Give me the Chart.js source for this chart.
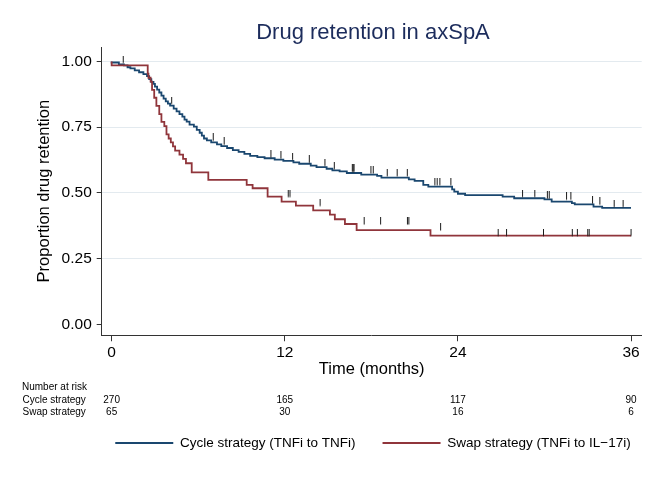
<!DOCTYPE html>
<html>
<head>
<meta charset="utf-8">
<script src="https://cdn.jsdelivr.net/npm/chart.js@4.4.1/dist/chart.umd.min.js"></script>
<style>
html,body{margin:0;padding:0;background:#fff;}
#wrap{width:660px;height:480px;}
</style>
</head>
<body>
<div id="wrap"><canvas id="c" width="660" height="480"></canvas></div>
<script>
// ---- data ----
const chartTitle = 'Drug retention in axSpA';
const xTitle = 'Time (months)';
const yTitle = 'Proportion drug retention';
const seriesLabels = ['Cycle strategy (TNFi to TNFi)', 'Swap strategy (TNFi to IL\u221217i)'];

const xTicks = [0, 12, 24, 36];
const yTicks = [0, 0.25, 0.5, 0.75, 1];

const cycleTime = [0,0.5,0.85,1.1,1.3,1.6,1.9,2.2,2.45,2.6,
  2.75,2.9,3.0,3.15,3.3,3.45,3.6,3.75,3.9,4.05,
  4.3,4.5,4.7,4.9,5.05,5.2,5.4,5.7,5.9,6.1,
  6.25,6.4,6.6,6.9,7.3,7.6,8.0,8.4,8.8,9.2,
  9.6,10.1,10.6,11.3,11.9,12.6,13.0,13.8,14.2,14.9,
  15.3,15.8,16.3,17.3,18.4,18.7,20.6,21.0,21.6,21.95,
  23.6,23.75,24.0,24.5,27.1,27.9,30.0,30.5,31.9,32.1,
  33.4,34.0,35.6,36];
const cycleSurv = [1,0.996,0.989,0.985,0.978,0.974,0.966,0.959,0.952,0.944,
  0.933,0.922,0.915,0.904,0.893,0.882,0.870,0.859,0.848,0.840,
  0.832,0.821,0.81,0.80,0.79,0.779,0.771,0.76,0.752,0.74,
  0.729,0.718,0.707,0.70,0.692,0.685,0.678,0.671,0.663,0.656,
  0.649,0.641,0.636,0.632,0.627,0.622,0.616,0.611,0.604,0.598,
  0.592,0.586,0.582,0.576,0.570,0.565,0.558,0.552,0.546,0.531,
  0.524,0.514,0.505,0.497,0.492,0.486,0.480,0.476,0.467,0.461,
  0.457,0.448,0.443,0.443];
const cycleCensor = [0.8,4.16,7.04,7.8,11.04,11.73,12.54,13.7,14.78,15.43,16.68,16.74,16.8,17.97,18.13,19.1,19.79,20.49,22.4,22.56,22.75,23.51,28.48,29.33,30.2,30.33,31.53,31.83,33.33,33.84,34.83,35.45];

const swapTime = [0,2.5,2.55,2.7,2.8,2.95,3.1,3.3,3.45,3.65,
  3.8,3.95,4.1,4.25,4.4,4.7,4.95,5.15,5.55,6.7,
  9.36,9.77,10.81,11.78,12.77,13.97,15.13,15.47,16.17,16.98,
  22.1,25.0,36];
const swapSurv = [1,0.985,0.954,0.938,0.923,0.892,0.862,0.831,0.800,0.77,
  0.754,0.723,0.707,0.692,0.677,0.661,0.646,0.63,0.613,0.578,
  0.55,0.531,0.518,0.486,0.467,0.452,0.434,0.418,0.40,0.382,
  0.359,0.338,0.338];
const swapCensor = [12.24,12.36,14.45,17.5,18.64,20.5,20.6,22.8,26.79,27.37,29.93,31.93,32.28,33.0,33.1,36.0];

const riskTitle = 'Number at risk';
const riskGroups = ['Cycle strategy', 'Swap strategy'];
const riskTimes = [0, 12, 24, 36];
const cycleRisk = [270, 165, 117, 90];
const swapRisk = [65, 30, 16, 6];

// ---- styles ----
const FONT = '"Liberation Sans", Arial, Helvetica, sans-serif';
const BLUE = '#1a476f';
const RED = '#90353b';
const seriesColors = [BLUE, RED];
Chart.defaults.font.family = FONT;
Chart.defaults.color = '#000';

function survAt(times, surv, t) {
  let s = surv[0];
  for (let i = 0; i < times.length; i++) { if (times[i] <= t) s = surv[i]; else break; }
  return s;
}

// censor tick glyph (vertical mark sitting on top of the curve)
const tickImg = document.createElement('canvas');
tickImg.width = 3; tickImg.height = 14;
const tctx = tickImg.getContext('2d');
tctx.fillStyle = '#1a1a1a';
tctx.fillRect(1, 0, 1, 7.5);

const riskPlugin = {
  id: 'riskTable',
  afterDraw(chart) {
    const ctx = chart.ctx, xs = chart.scales.x;
    ctx.save();
    ctx.font = '10px ' + FONT;
    ctx.fillStyle = '#000';
    ctx.textBaseline = 'middle';
    ctx.textAlign = 'left';
    ctx.fillText(riskTitle, 22, 387);
    ctx.fillText(riskGroups[0], 22.5, 400);
    ctx.fillText(riskGroups[1], 22.5, 412);
    ctx.textAlign = 'center';
    riskTimes.forEach((t, i) => {
      const px = xs.getPixelForValue(t);
      ctx.fillText(String(cycleRisk[i]), px, 400);
      ctx.fillText(String(swapRisk[i]), px, 412);
    });
    ctx.restore();
  }
};

new Chart(document.getElementById('c'), {
  type: 'line',
  data: {
    datasets: [
      { label: 'cycle censored', data: cycleCensor.map(t => ({x: t, y: survAt(cycleTime, cycleSurv, t)})),
        showLine: false, pointStyle: tickImg, pointRadius: 3, order: 0 },
      { label: 'swap censored', data: swapCensor.map(t => ({x: t, y: survAt(swapTime, swapSurv, t)})),
        showLine: false, pointStyle: tickImg, pointRadius: 3, order: 0 },
      { label: seriesLabels[0], data: cycleTime.map((t, i) => ({x: t, y: cycleSurv[i]})),
        borderColor: BLUE, backgroundColor: BLUE, borderWidth: 1.8, stepped: 'after', pointRadius: 0, fill: false, order: 3 },
      { label: seriesLabels[1], data: swapTime.map((t, i) => ({x: t, y: swapSurv[i]})),
        borderColor: RED, backgroundColor: RED, borderWidth: 1.8, stepped: 'after', pointRadius: 0, fill: false, order: 2 }
    ]
  },
  options: {
    responsive: false,
    animation: false,
    events: [],
    layout: { padding: { left: 86, right: 0, top: 0, bottom: 20.25 } },
    scales: {
      x: {
        type: 'linear', min: -0.69, max: 36.74,
        afterBuildTicks: s => { s.ticks = xTicks.map(v => ({value: v})); },
        afterFit: s => { s.height = 74; },
        ticks: { font: {size: 15.5}, padding: 2, color: '#000', callback: v => String(v) },
        grid: { display: true, drawOnChartArea: false, tickColor: '#333', tickLength: 6 },
        border: { color: '#333', width: 1 },
        title: { display: true, text: xTitle, font: {size: 16.5}, padding: {top: 0, bottom: 30.1}, color: '#000' }
      },
      y: {
        type: 'linear', min: -0.041, max: 1.055,
        afterBuildTicks: s => { s.ticks = yTicks.map(v => ({value: v})); },
        afterFit: s => { s.width = 15.7; },
        ticks: { font: {size: 15.5}, mirror: true, crossAlign: 'far', padding: -40.1, color: '#000', callback: v => Number(v).toFixed(2) },
        grid: { color: c => (c.tick && c.tick.value === 0) ? 'rgba(0,0,0,0)' : '#e3eaef', tickColor: '#333', tickLength: 5, lineWidth: 1 },
        border: { color: '#333', width: 1 },
        title: { display: true, text: yTitle, font: {size: 16.5}, padding: {top: -51.9, bottom: 0}, color: '#000' }
      },
      yr: {
        type: 'linear', position: 'right', display: true,
        grid: { display: false, drawTicks: false },
        ticks: { display: false },
        border: { display: false },
        afterFit: s => { s.width = 18.3; }
      }
    },
    plugins: {
      title: { display: true, text: chartTitle, color: '#1c2c5c', font: {size: 22, weight: 'normal'}, padding: {top: 19.8, bottom: 0.8} },
      legend: {
        display: true, position: 'bottom',
        labels: {
          boxWidth: 58, boxHeight: 2, padding: 27, font: {size: 13.5}, color: '#000',
          generateLabels: () => seriesLabels.map((t, i) => ({
            text: t, fillStyle: seriesColors[i], strokeStyle: seriesColors[i], lineWidth: 0, hidden: false, datasetIndex: i + 2
          }))
        }
      },
      tooltip: { enabled: false }
    }
  },
  plugins: [riskPlugin]
});
</script>
</body>
</html>
